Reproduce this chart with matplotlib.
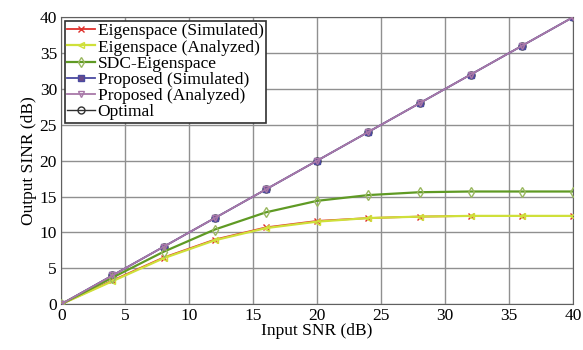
import matplotlib
matplotlib.use("Agg")
import matplotlib.pyplot as plt
import numpy as np

# ----------------------------
# Data
# ----------------------------
input_snr = [0, 4, 8, 12, 16, 20, 24, 28, 32, 36, 40]
eig_sim = [0, 3.3, 6.5, 9.0, 10.7, 11.6, 12.0, 12.2, 12.3, 12.3, 12.3]
eig_ana = [0, 3.2, 6.4, 8.9, 10.6, 11.5, 12.0, 12.2, 12.3, 12.3, 12.3]
sdc_eig = [0, 3.7, 7.3, 10.4, 12.8, 14.4, 15.2, 15.6, 15.7, 15.7, 15.7]
prop_sim = [0, 4, 8, 12, 16, 20, 24, 28, 32, 36, 40]
prop_ana = [0, 4, 8, 12, 16, 20, 24, 28, 32, 36, 40]
optimal = [0, 4, 8, 12, 16, 20, 24, 28, 32, 36, 40]

xticks = [0, 5, 10, 15, 20, 25, 30, 35, 40]
yticks = [0, 5, 10, 15, 20, 25, 30, 35, 40]

plt.rcParams['font.family'] = ['Liberation Serif', 'DejaVu Serif']
plt.rcParams['font.size'] = 12.5

fig = plt.figure(figsize=(5.83, 3.5), dpi=100)
ax = fig.add_axes([0.105, 0.131, 0.878, 0.820])

# ----------------------------
# Curves
# ----------------------------
ax.plot(input_snr, eig_sim, color='#e0302c', marker='x', ms=4, lw=1.3,
        label='Eigenspace (Simulated)', zorder=2)
ax.plot(input_snr, eig_ana, color='#cfe03a', marker='<', ms=5, lw=1.6,
        mfc='none', label='Eigenspace (Analyzed)', zorder=3)
ax.plot(input_snr, sdc_eig, color='#5f9a24', marker='d', ms=5, lw=1.6,
        mfc='none', mec='#9ab860', label='SDC-Eigenspace', zorder=3)
ax.plot(input_snr, prop_sim, color='#4a4aa0', marker='s', ms=5, lw=1.3,
        mfc='#6a4a8a', label='Proposed (Simulated)', zorder=2)
ax.plot(input_snr, prop_ana, color='#a878a8', marker='v', ms=5, lw=1.3,
        mfc='none', label='Proposed (Analyzed)', zorder=4)
ax.plot(input_snr, optimal, color='#303030', marker='o', ms=5, lw=1.0,
        mfc='none', label='Optimal', zorder=1)

ax.set_xlim(0, 40)
ax.set_ylim(0, 40)
ax.set_xticks(xticks)
ax.set_yticks(yticks)
ax.grid(True, color='#909090', lw=1.0)
ax.set_axisbelow(True)
for s in ax.spines.values():
    s.set_color('#606060')
ax.tick_params(length=0, pad=3)

ax.set_xlabel('Input SNR (dB)', labelpad=-1)
ax.set_ylabel('Output SINR (dB)', labelpad=2)

leg = ax.legend(loc='upper left', fontsize=12.5, labelspacing=0.0,
                handlelength=1.6, handletextpad=0.15, borderpad=0.15,
                borderaxespad=0.2, fancybox=False, framealpha=1)
leg.get_frame().set_edgecolor('#303030')
leg.get_frame().set_linewidth(1.2)

plt.savefig('out.png', dpi=100)
plt.close()
